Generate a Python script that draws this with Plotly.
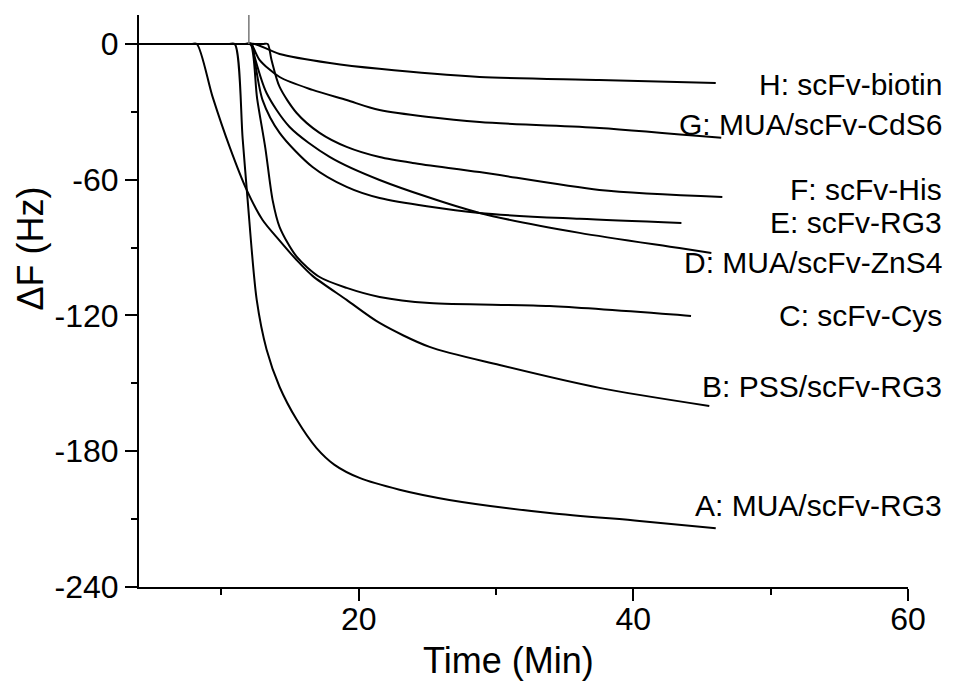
import plotly.graph_objects as go

# ---- data (Time in min, ΔF in Hz) ----
A_x = [4.0, 10.5, 10.97, 11.55, 11.91, 12.57, 13.29, 14.24, 15.48, 16.93, 18.24, 20.06, 22.97, 26.6, 33.9, 40.45, 46.0]
A_y = [0, 0, 0, -42, -68.9, -113, -135, -151.6, -166, -178.6, -186, -191.8, -197, -201.5, -207.3, -210.8, -214]

B_x = [4.0, 7.8, 8.21, 9.36, 10.60, 11.84, 13.00, 14.24, 15.48, 16.64, 19.12, 21.52, 25.16, 30.26, 37.53, 45.53]
B_y = [0, 0, 0, -23.4, -45.5, -64.5, -77.8, -86.9, -95.5, -102.5, -113.1, -123.3, -133.9, -141.9, -152, -160]

C_x = [4.0, 11.7, 12.12, 12.6, 13.2, 13.73, 14.24, 15.48, 17.15, 19.12, 21.52, 25.16, 33.9, 43.4, 44.2]
C_y = [0, 0, 0, -24, -46, -69, -80.9, -94, -103, -107.8, -111.8, -114.5, -115.8, -119.8, -120.2]

D_x = [4.0, 11.8, 12.2, 12.42, 13.29, 14.97, 17.88, 21.52, 28.8, 36.08, 43.35, 45.68]
D_y = [0, 0, 0, -5.7, -21.7, -36.7, -49.9, -60.1, -74.7, -83.5, -90.2, -92.4]

E_x = [4.0, 11.8, 12.2, 12.42, 13.0, 14.24, 16.64, 19.12, 21.52, 28.8, 36.08, 43.5]
E_y = [0, 0, 0, -7.1, -24.8, -39.3, -54.4, -63.2, -68.1, -74.7, -77.3, -79.1]

F_x = [4.0, 13.0, 13.37, 13.65, 14.24, 15.48, 17.15, 19.12, 21.52, 23.92, 28.8, 37.53, 46.48]
F_y = [0, 0, 0, -7.1, -19, -30.5, -39.3, -45.5, -50, -52.6, -56.6, -64.5, -67.6]

G_x = [4.0, 11.7, 12.07, 12.29, 12.79, 14.24, 16.64, 19.12, 21.52, 28.8, 37.53, 46.4]
G_y = [0, 0, 0, -1.3, -7.1, -14.6, -20.3, -24.8, -29.2, -34.5, -37.1, -41.5]

H_x = [4.0, 12.0, 12.43, 14.24, 17.9, 21.5, 28.8, 37.5, 46.0]
H_y = [0, 0, 0, -4.4, -8.4, -11, -14.6, -15.9, -17.2]

labels = ["A: MUA/scFv-RG3", "B: PSS/scFv-RG3", "C: scFv-Cys", "D: MUA/scFv-ZnS4",
          "E: scFv-RG3", "F: scFv-His", "G: MUA/scFv-CdS6", "H: scFv-biotin"]
injection_time = 12.0

x_ticks = [20, 40, 60]
y_ticks = [0, -60, -120, -180, -240]

series = [(A_x, A_y), (B_x, B_y), (C_x, C_y), (D_x, D_y),
          (E_x, E_y), (F_x, F_y), (G_x, G_y), (H_x, H_y)]

# label placement (layout): vertical centre of each label in axis units
label_pos = [-203.8, -151.6, -120.2, -96.8, -78.7, -64.1, -35.4, -17.7]

FONT = "Liberation Sans, Arial, sans-serif"

fig = go.Figure()
for (xs, ys), name in zip(series, labels):
    fig.add_trace(go.Scatter(x=xs, y=ys, mode="lines", name=name,
                             line=dict(color="black", width=2, shape="spline", smoothing=0.8),
                             showlegend=False, hoverinfo="skip"))

YMAX = 12.8
fig.add_shape(type="line", x0=injection_time, x1=injection_time, y0=0, y1=YMAX,
              xref="x", yref="y", line=dict(color="#777777", width=1.5))

for name, yp in zip(labels, label_pos):
    fig.add_annotation(text=name, x=1.047, y=yp, xref="paper", yref="y",
                       xanchor="right", yanchor="middle", showarrow=False,
                       font=dict(family=FONT, size=30, color="black"))

fig.add_annotation(text="Time (Min)", x=0.481, y=-0.129, xref="paper", yref="paper",
                   xanchor="center", yanchor="middle", showarrow=False,
                   font=dict(family=FONT, size=36, color="black"))
fig.add_annotation(text="ΔF (Hz)", x=-0.141, y=0.591, xref="paper", yref="paper",
                   xanchor="center", yanchor="middle", showarrow=False, textangle=-90,
                   font=dict(family=FONT, size=36, color="black"))

axis_common = dict(showline=True, linecolor="black", linewidth=2, mirror=False,
                   ticks="outside", ticklen=12, tickwidth=2, tickcolor="black",
                   showgrid=False, zeroline=False,
                   tickfont=dict(family=FONT, size=32, color="black"))

fig.update_xaxes(range=[4, 60], tickvals=x_ticks, ticktext=[str(v) for v in x_ticks],
                 ticklabelstandoff=-9,
                 minor=dict(dtick=10, tick0=0, ticklen=6, tickwidth=2, tickcolor="black", ticks="outside"),
                 **axis_common)
fig.update_yaxes(range=[-240, YMAX], tickvals=y_ticks, ticktext=[str(v) for v in y_ticks],
                 ticklabelstandoff=0,
                 minor=dict(dtick=30, tick0=0, ticklen=6, tickwidth=2, tickcolor="black", ticks="outside"),
                 **axis_common)

# the page body has an 8px margin, so the figure is drawn 8px in from the window edge
fig.update_layout(width=946, height=681, margin=dict(l=131, r=46, t=7, b=102),
                  plot_bgcolor="white", paper_bgcolor="white",
                  font=dict(family=FONT, color="black"))

fig.write_html("out.html")
